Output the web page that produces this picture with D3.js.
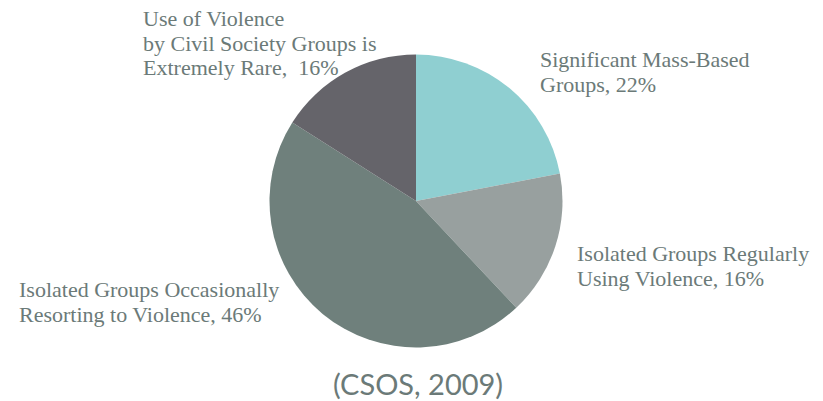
<!DOCTYPE html>
<html>
<head>
<meta charset="utf-8">
<script src="https://cdn.jsdelivr.net/npm/d3@7"></script>
<style>
  html, body { margin: 0; padding: 0; background: #ffffff; }
  svg { display: block; }
  .lbl { font-family: "Liberation Serif", "DejaVu Serif", serif; font-size: 22px; fill: #6b7a78; }
  .src { font-family: Lato, "Open Sans", sans-serif; font-size: 29px; fill: #6b7a78; }
</style>
</head>
<body>
<svg id="chart" width="823" height="401"></svg>
<script>
// Share of civil society groups by their use of violence
const categories = [
  "Significant Mass-Based Groups",
  "Isolated Groups Regularly Using Violence",
  "Isolated Groups Occasionally Resorting to Violence",
  "Use of Violence by Civil Society Groups is Extremely Rare"
];
const values = [22, 16, 46, 16];
const colors = ["#8fcfd1", "#98a09f", "#6f807c", "#65646a"];

// Label lines (text as printed) and their anchor points
const labelLines = [
  ["Significant Mass-Based", "Groups, 22%"],
  ["Isolated Groups Regularly", "Using Violence, 16%"],
  ["Isolated Groups Occasionally", "Resorting to Violence, 46%"],
  ["Use of Violence", "by Civil Society Groups is", "Extremely Rare,  16%"]
];
const labelPos = [[540, 67], [577, 261], [19, 297], [143, 26]];
const sourceText = "(CSOS, 2009)";

const svg = d3.select("#chart");
const cx = 416, cy = 201, radius = 146.5;

const pie = d3.pie().sort(null).value(d => d)(values);
const arc = d3.arc().innerRadius(0).outerRadius(radius);
const color = d3.scaleOrdinal().domain(d3.range(values.length)).range(colors);

svg.append("g")
  .attr("transform", `translate(${cx},${cy})`)
  .selectAll("path")
  .data(pie)
  .join("path")
  .attr("d", arc)
  .attr("fill", (d, i) => color(i));

const lh = 24.5;
labelLines.forEach((lines, i) => {
  const t = svg.append("text")
    .attr("class", "lbl")
    .attr("x", labelPos[i][0])
    .attr("y", labelPos[i][1])
    .attr("xml:space", "preserve")
    .style("white-space", "pre");
  lines.forEach((ln, j) => {
    t.append("tspan")
      .attr("x", labelPos[i][0])
      .attr("y", labelPos[i][1] + j * lh)
      .text(ln);
  });
});

svg.append("text")
  .attr("class", "src")
  .attr("x", 418)
  .attr("y", 395)
  .attr("text-anchor", "middle")
  .text(sourceText);
</script>
</body>
</html>
